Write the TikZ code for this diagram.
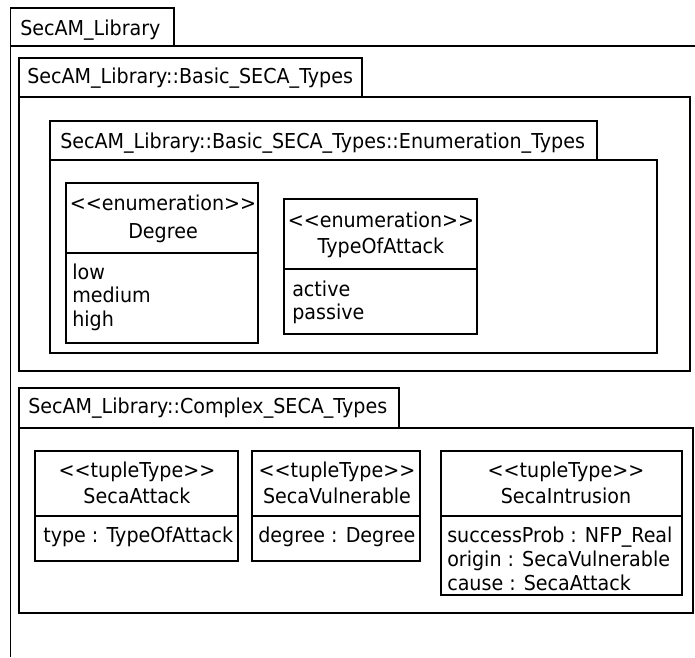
\documentclass[tikz,border=0pt]{standalone}
\usepackage{fontspec}
\setmainfont[FakeStretch=0.93]{DejaVu Sans}

\tikzset{
  frame/.style={draw,line width=1.3pt},
  umltext/.style={inner sep=0pt,font=\fontsize{15.4}{18.5}\selectfont},
  title/.style={umltext,anchor=base west},
  head/.style={umltext,anchor=base},
  item/.style={umltext,anchor=base west}
}

\begin{document}
\begin{tikzpicture}[x=0.75pt,y=-0.75pt]
  \useasboundingbox (0,0) rectangle (695,657);

  \draw[frame] (10.5,8) rectangle (174,46);
  \draw[frame] (10.5,657) -- (10.5,46) -- (695,46);
  \node[title] (library) at (20,35) {SecAM\_Library};

  \draw[frame] (19,58) rectangle (362,97);
  \draw[frame] (19,97) rectangle (690,371);
  \node[title] (basic) at (27,83) {SecAM\_Library::Basic\_SECA\_Types};

  \draw[frame] (50,121) rectangle (597,160);
  \draw[frame] (50,160) rectangle (657,353);
  \node[title] (enumerations) at (60,148) {SecAM\_Library::Basic\_SECA\_Types::Enumeration\_Types};

  \draw[frame] (66,183) rectangle (258,343);
  \draw[frame] (66,253) -- (258,253);
  \node[head] (degreestereo) at (163,210) {{<}{<}enumeration{>}{>}};
  \node[head] (degree) at (163,238) {Degree};
  \node[item] (low) at (72,279) {low};
  \node[item] (medium) at (72,302.5) {medium};
  \node[item] (high) at (72,326) {high};

  \draw[frame] (284,199) rectangle (477,334);
  \draw[frame] (284,269) -- (477,269);
  \node[head] (attackstereo) at (381,227) {{<}{<}enumeration{>}{>}};
  \node[head] (typeofattack) at (381,253) {TypeOfAttack};
  \node[item] (active) at (292,296) {active};
  \node[item] (passive) at (292,319.5) {passive};

  \draw[frame] (19,388) rectangle (399,428);
  \draw[frame] (19,428) rectangle (693,613);
  \node[title] (complex) at (28,413) {SecAM\_Library::Complex\_SECA\_Types};

  \draw[frame] (35,451) rectangle (238,561);
  \draw[frame] (35,516) -- (238,516);
  \node[head] (attackhead) at (137,477) {{<}{<}tupleType{>}{>}};
  \node[head] (secaattack) at (137,503) {SecaAttack};
  \node[item] (attacktype) at (43,542) {type : TypeOfAttack};

  \draw[frame] (252,451) rectangle (420,561);
  \draw[frame] (252,516) -- (420,516);
  \node[head] (vulnhead) at (337,477) {{<}{<}tupleType{>}{>}};
  \node[head] (secavulnerable) at (337,503) {SecaVulnerable};
  \node[item] (vulndegree) at (258,542) {degree : Degree};

  \draw[frame] (441,451) rectangle (682,595);
  \draw[frame] (441,516) -- (682,516);
  \node[head] (intrusionhead) at (566,477) {{<}{<}tupleType{>}{>}};
  \node[head] (secaintrusion) at (566,503) {SecaIntrusion};
  \node[item] (successprob) at (447,542) {successProb : NFP\_Real};
  \node[item] (origin) at (447,566) {origin : SecaVulnerable};
  \node[item] (cause) at (447,590) {cause : SecaAttack};
\end{tikzpicture}
\end{document}
